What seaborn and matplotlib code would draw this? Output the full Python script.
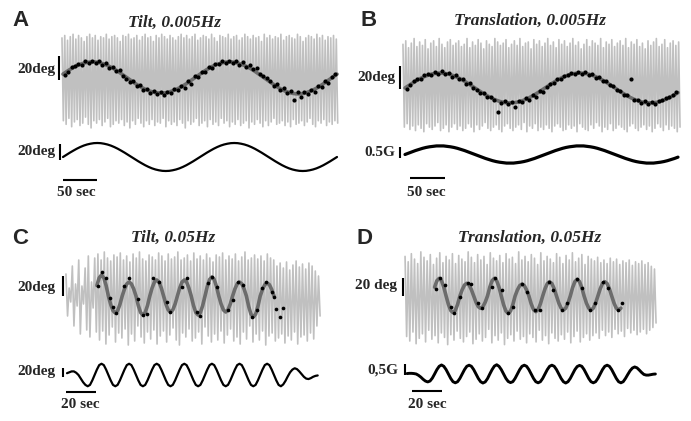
"""
Vestibular responses to tilt and translation: eye trace, fitted slow phase and stimulus.
"""

import numpy as np
import matplotlib
matplotlib.use("Agg")
import matplotlib.pyplot as plt
import seaborn as sns

W, H = 691, 421

# ---------------- Panel A: tilt 0.005 Hz (time step 5 s) ----------------
a_stim = [0, 2.7, 5.4, 7.9, 10.3, 12.4, 14.2, 15.6, 16.6, 17.3, 17.5, 17.3, 16.6, 15.6, 14.2, 12.4, 10.3, 7.9, 5.4, 2.7,
          0, -2.7, -5.4, -7.9, -10.3, -12.4, -14.2, -15.6, -16.6, -17.3, -17.5, -17.3, -16.6, -15.6, -14.2, -12.4, -10.3, -7.9, -5.4, -2.7,
          0, 2.7, 5.4, 7.9, 10.3, 12.4, 14.2, 15.6, 16.6, 17.3, 17.5, 17.3, 16.6, 15.6, 14.2, 12.4, 10.3, 7.9, 5.4, 2.7,
          0, -2.7, -5.4, -7.9, -10.3, -12.4, -14.2, -15.6, -16.6, -17.3, -17.5, -17.3, -16.6, -15.6, -14.2, -12.4, -10.3, -7.9, -5.4, -2.7,
          0]
a_fit = [2.8, 4.8, 6.6, 8.3, 9.8, 11.0, 11.9, 12.6, 12.9, 13.0, 12.7, 12.1, 11.1, 10.0, 8.6, 7.0, 5.2, 3.2, 1.2, -0.8,
         -2.8, -4.8, -6.6, -8.3, -9.8, -11.0, -11.9, -12.6, -12.9, -13.0, -12.7, -12.1, -11.1, -10.0, -8.6, -7.0, -5.2, -3.2, -1.2, 0.8,
         2.8, 4.8, 6.6, 8.3, 9.8, 11.0, 11.9, 12.6, 12.9, 13.0, 12.7, 12.1, 11.1, 10.0, 8.6, 7.0, 5.2, 3.2, 1.2, -0.8,
         -2.8, -4.8, -6.8, -8.6, -10.2, -11.5, -12.5, -13.2, -13.6, -13.7, -13.4, -12.7, -11.6, -10.4, -8.9, -7.2, -5.3, -3.2, -1.2, 0.8,
         2.8]
a_dots = [2.1, 5.0, 8.6, 9.8, 11.2, 10.6, 13.9, 12.0, 14.1, 12.5, 13.6, 10.8, 11.9, 8.2, 8.9, 5.1, 6.3, 1.0, -0.9, -3.5,
          -2.6, -7.0, -6.4, -10.1, -9.5, -12.6, -11.4, -13.9, -12.1, -14.2, -11.8, -12.9, -9.7, -10.4, -6.8, -8.9, -3.1, -5.4, 1.2, 0.6,
          4.9, 4.6, 8.8, 7.9, 11.6, 10.9, 13.4, 12.1, 14.0, 12.3, 13.5, 10.6, 12.7, 9.0, 10.2, 6.8, 7.7, 3.3, 1.4, -0.6,
          -2.9, -6.8, -5.1, -10.2, -8.7, -12.8, -10.9, -18.5, -12.2, -16.5, -12.0, -13.8, -10.1, -11.9, -6.7, -8.2, -3.0, -4.5, 0.8, 3.0]
a_eye_hi = [33, 35, 31, 34, 36, 32, 35, 33, 30, 34, 36, 33, 35, 31, 34, 33, 36, 32, 34, 35,
            33, 30, 35, 34, 36, 32, 33, 35, 31, 34, 36, 33, 34, 30, 35, 33, 36, 34, 32, 35,
            33, 31, 34, 36, 33, 35, 32, 34, 36, 31, 33, 35, 34, 32, 36, 33, 30, 35, 34, 33,
            36, 32, 34, 35, 31, 33, 36, 34, 32, 35, 33, 34, 30, 36, 33, 35, 32, 34, 33, 36,
            31, 34, 35, 33, 32, 36, 34, 30, 33, 35, 34, 32, 36, 33, 35, 31, 34, 33, 35, 32]
a_eye_lo = [-36, -39, -34, -41, -37, -35, -40, -38, -33, -39, -42, -36, -38, -35, -40, -37, -34, -41, -39, -36,
            -38, -35, -40, -37, -42, -36, -39, -34, -38, -41, -36, -39, -35, -40, -37, -38, -34, -41, -36, -39,
            -37, -40, -35, -38, -42, -36, -39, -37, -34, -40, -38, -36, -41, -35, -39, -37, -40, -34, -38, -36,
            -41, -37, -39, -35, -40, -38, -36, -42, -37, -39, -35, -38, -41, -36, -40, -37, -34, -39, -38, -36,
            -40, -37, -41, -35, -39, -38, -36, -40, -37, -34, -39, -41, -36, -38, -35, -40, -37, -39, -36, -38]

# ---------------- Panel B: translation 0.005 Hz (time step 5 s) ----------------
b_stim = [0, 0.06, 0.12, 0.18, 0.23, 0.28, 0.32, 0.35, 0.37, 0.39, 0.39, 0.39, 0.37, 0.35, 0.32, 0.28, 0.23, 0.18, 0.12, 0.06,
          0, -0.06, -0.12, -0.18, -0.23, -0.28, -0.32, -0.35, -0.37, -0.39, -0.39, -0.39, -0.37, -0.35, -0.32, -0.28, -0.23, -0.18, -0.12, -0.06,
          0, 0.06, 0.12, 0.18, 0.23, 0.28, 0.32, 0.35, 0.37, 0.39, 0.39, 0.39, 0.37, 0.35, 0.32, 0.28, 0.23, 0.18, 0.12, 0.06,
          0, -0.06, -0.12, -0.18, -0.23, -0.28, -0.32, -0.35, -0.37, -0.39, -0.39, -0.39, -0.37, -0.35, -0.32, -0.28, -0.23, -0.18, -0.12]
b_fit = [0, 2.0, 4.0, 5.9, 7.6, 9.2, 10.5, 11.6, 12.4, 12.8, 13.0, 12.8, 12.4, 11.6, 10.5, 9.2, 7.6, 5.9, 4.0, 2.0,
         0, -2.0, -4.0, -5.9, -7.6, -9.2, -10.5, -11.6, -12.4, -12.8, -13.0, -12.8, -12.4, -11.6, -10.5, -9.2, -7.6, -5.9, -4.0, -2.0,
         0, 2.0, 4.0, 5.9, 7.6, 9.2, 10.5, 11.6, 12.4, 12.8, 13.0, 12.8, 12.4, 11.6, 10.5, 9.2, 7.6, 5.9, 4.0, 2.0,
         0, -2.0, -4.0, -5.9, -7.6, -9.2, -10.5, -11.6, -12.4, -12.8, -13.0, -12.8, -12.4, -11.6, -10.5, -9.2, -7.6, -5.9, -4.0]
b_dots = [-0.5, 2.2, 5.8, 7.9, 7.6, 10.9, 12.3, 11.2, 14.0, 12.1, 15.2, 11.8, 13.1, 10.0, 10.9, 7.5, 8.1, 3.9, 4.2, -0.3,
          -1.8, -4.1, -4.0, -7.9, -7.5, -10.8, -20.6, -12.9, -11.4, -14.1, -12.2, -16.5, -11.3, -12.3, -9.0, -10.7, -6.1, -7.4, -2.2, -3.9,
          0.9, 3.6, 4.1, 7.9, 7.8, 10.8, 11.2, 12.8, 11.9, 14.0, 12.4, 13.8, 10.9, 12.2, 9.0, 9.7, 5.8, 6.1, 2.4, 2.0,
          -2.1, -2.4, -5.8, -6.0, 7.8, -10.6, -10.2, -12.7, -11.6, -14.0, -12.1, -13.8, -11.2, -10.4, -9.1, -7.6, -6.1, -3.8]
b_eye_hi = [38, 41, 35, 39, 43, 36, 40, 37, 42, 34, 39, 41, 36, 43, 38, 35, 40, 42, 37, 39,
            41, 36, 38, 43, 35, 40, 37, 42, 39, 34, 41, 38, 36, 43, 40, 37, 39, 42, 35, 38,
            41, 37, 43, 36, 39, 40, 34, 42, 38, 41, 36, 39, 43, 37, 40, 35, 42, 38, 41, 36,
            39, 43, 37, 40, 34, 38, 42, 36, 41, 39, 37, 43, 35, 40, 38, 42, 36, 39, 41, 37,
            43, 35, 40, 38, 42, 36, 39, 34, 41, 37, 40, 43, 36, 38, 42, 35, 39, 41, 37, 40]
b_eye_lo = [-34, -31, -36, -33, -37, -32, -35, -38, -31, -34, -36, -33, -30, -37, -35, -32, -38, -34, -31, -36,
            -33, -37, -35, -31, -34, -38, -32, -36, -33, -30, -35, -37, -34, -32, -36, -38, -33, -31, -35, -37,
            -34, -32, -36, -30, -38, -33, -35, -31, -37, -34, -36, -32, -35, -38, -33, -31, -34, -37, -36, -32,
            -35, -33, -38, -31, -34, -36, -37, -32, -35, -30, -33, -38, -34, -36, -31, -37, -35, -32, -34, -36,
            -38, -33, -31, -35, -37, -34, -32, -36, -33, -38, -35, -31, -34, -37, -32, -36, -33, -35, -38, -34]

# ---------------- Panel C: tilt 0.05 Hz (time step 1.533 s) ----------------
c_stim = [4, 6, 8, 8, 5, 0, -8, -16, -22,
          -25, -22, -12, 0, 12, 22, 25, 22, 12, 0, -12, -22,
          -25, -22, -12, 0, 12, 22, 25, 22, 12, 0, -12, -22,
          -25, -22, -12, 0, 12, 22, 25, 22, 12, 0, -12, -22,
          -25, -22, -12, 0, 12, 22, 25, 22, 12, 0, -12, -22,
          -25, -22, -12, 0, 12, 22, 25, 22, 12, 0, -12, -22,
          -25, -22, -12, 0, 12, 22, 25, 22, 12, 0, -12, -22,
          -25, -22, -12, 0, 12, 22, 25, 22, 12, 0, -12, -22,
          -25, -21, -13, -3, 6, 12, 15,
          13, 8, 2, -4, -8,
          -9, -7, -4, -2, -1]
c_fit_start = 13
c_fit = [10.5, 18.2,
         21, 18.2, 10.5, 0, -8.5, -14.7, -17,
         -14.7, -8.5, 0, 7, 12.1, 14,
         12.1, 7, 0, -9.5, -16.5, -19,
         -16.5, -9.5, 0, 8, 13.9, 16,
         13.9, 8, 0, -8, -13.9, -16,
         -13.9, -8, 0, 8, 13.9, 16,
         13.9, 8, 0, -9.5, -16.5, -19,
         -16.5, -9.5, 0, 9.5, 16.5, 19,
         16.5, 9.5, 0, -8, -13.9, -16,
         -13.9, -8, 0, 7, 12.1, 14,
         12.1, 7, 0, -10.5, -18.2, -21,
         -18.2, -10.5, 0, 6.5, 11.3, 13,
         11.3, 6.5, 0]
c_dot_t = [20.9, 23.1, 26.0, 28.7, 30.9, 32.7, 38.0, 41.5, 47.5, 50.9, 53.0, 57.5, 61.0, 66.4, 68.7, 76.4, 79.8,
           86.4, 88.7, 94.2, 96.4, 99.8, 107.5, 110.9, 114.2, 117.6, 123.1, 126.4, 129.8, 132.7, 136.4, 138.0,
           139.1, 144.2, 142.0]
c_dot_y = [10, 24, 18, -2, -11, -17, 10, 18, -3, -19, -18, 18, 14, -6, -16, 9, 18,
           -16, -20, 13, 19, 9, -14, -4, 14, 11, -21, -14, 8, 14, 4, -1,
           -13, -12, -21]
c_eye_hi = [22, 8, 30, 12, 36, 10, 28, 40, 14, 38,
            42, 36, 44, 38, 35, 41, 39, 43, 36, 40,
            34, 42, 38, 44, 37, 35, 41, 39, 36, 43,
            40, 35, 42, 37, 39, 44, 36, 38, 41, 35,
            43, 37, 40, 36, 42, 38, 34, 41, 39, 43,
            36, 40, 37, 42, 35, 39, 44, 36, 38, 41,
            37, 40, 35, 42, 38, 36,
            30, 33, 28, 34, 26, 31, 35, 29, 32, 27, 33, 30, 25, 20]
c_eye_lo = [-20, -6, -30, -10, -38, -8, -34, -41, -12, -36,
            -44, -35, -48, -39, -31, -46, -37, -42, -33, -49,
            -38, -45, -30, -41, -47, -36, -43, -34, -48, -40,
            -35, -46, -39, -32, -44, -49, -37, -41, -33, -45,
            -42, -36, -48, -31, -40, -46, -38, -44, -35, -47,
            -39, -33, -45, -41, -48, -36, -43, -30, -46, -38,
            -44, -35, -49, -40, -37, -45,
            -42, -38, -47, -40, -44, -36, -48, -41, -39, -45, -37, -43, -30, -20]

# ---------------- Panel D: translation 0.05 Hz (time step 1.533 s) ----------------
d_stim = [0.02, 0.03, 0.03, 0.02, 0.0, -0.06, -0.14, -0.24, -0.32,
          -0.36, -0.32, -0.19, 0.0, 0.2, 0.35, 0.41, 0.35, 0.2, 0.0, -0.2, -0.35,
          -0.4, -0.35, -0.2, 0.0, 0.2, 0.35, 0.4, 0.35, 0.2, 0.0, -0.2, -0.35,
          -0.41, -0.36, -0.21, 0.0, 0.2, 0.36, 0.42, 0.35, 0.2, 0.0, -0.2, -0.34,
          -0.39, -0.35, -0.2, 0.0, 0.2, 0.35, 0.4, 0.35, 0.2, 0.0, -0.2, -0.35,
          -0.4, -0.35, -0.2, 0.0, 0.2, 0.35, 0.4, 0.35, 0.2, 0.0, -0.2, -0.35,
          -0.41, -0.35, -0.2, 0.0, 0.2, 0.34, 0.39, 0.35, 0.2, 0.0, -0.2, -0.35,
          -0.4, -0.35, -0.2, 0.0, 0.2, 0.35, 0.4, 0.35, 0.2, 0.0, -0.2, -0.35,
          -0.4, -0.35, -0.2, -0.02, 0.15, 0.27, 0.32,
          0.28, 0.18, 0.07, -0.02, -0.05, -0.05, -0.03, -0.01, 0.0]
d_fit_start = 12
d_fit = [9.8, 17,
         19.6, 17, 9.8, 0, -9.3, -16, -18.5,
         -16, -9.3, 0, 7, 12.2, 14.1,
         12.2, 7, 0, -6.9, -11.9, -13.7,
         -11.9, -6.9, 0, 9.8, 17, 19.6,
         17, 9.8, 0, -9.7, -16.7, -19.3,
         -16.7, -9.7, 0, 6.7, 11.5, 13.3,
         11.5, 6.7, 0, -8.7, -15.1, -17.4,
         -15.1, -8.7, 0, 8, 13.8, 15.9,
         13.8, 8, 0, -7.8, -13.5, -15.6,
         -13.5, -7.8, 0, 9.3, 16, 18.5,
         16, 9.3, 0, -7.8, -13.5, -15.6,
         -13.5, -7.8, 0, 8, 13.8, 15.9,
         13.8, 8, 0, -7.8, -13.5, -15.6,
         -13.5]
d_dot_t = [19.1, 22.0, 25.3, 29.3, 31.6, 35.3, 40.4, 42.7, 47.6, 49.8, 56.4, 58.7, 63.1, 67.6, 70.9, 76.4,
           79.8, 85.3, 88.7, 94.7, 97.6, 103.1, 106.4, 113.1, 116.4, 122.0, 125.3, 130.9, 134.2, 140.9, 143.1]
d_dot_y = [7.8, 19.6, 12, -11.9, -19.3, -0.7, 14, 13.3, -8, -13.7, 10.4, 19.6, 6.7, -19.3, -11.9, 13.3,
           4.8, -15.6, -15.6, 15.9, 6.7, -15.6, -8, 18.5, 8.5, -15.6, -8, 15.9, 8.5, -15.6, -8]
d_eye_hi = [44, 38, 47, 41, 36, 49, 43, 39, 46, 35,
            42, 48, 37, 44, 40, 47, 36, 45, 41, 38,
            49, 43, 37, 46, 40, 44, 35, 48, 42, 39,
            45, 37, 47, 41, 43, 36, 49, 40, 44, 38,
            46, 42, 35, 48, 39, 44, 41, 37, 47, 43,
            36, 45, 40, 48, 38, 42, 46, 35, 44, 41,
            39, 43, 37, 40, 36, 42, 38, 41, 35, 39,
            37, 40, 34, 38, 36, 39, 35, 37, 33, 30]
d_eye_lo = [-45, -50, -40, -53, -47, -42, -51, -38, -48, -44,
            -52, -41, -46, -54, -43, -49, -39, -47, -51, -45,
            -40, -53, -48, -42, -50, -46, -37, -52, -44, -49,
            -41, -54, -47, -43, -50, -39, -48, -45, -52, -42,
            -46, -51, -38, -49, -44, -53, -41, -47, -50, -43,
            -48, -40, -52, -45, -39, -51, -46, -42, -49, -44,
            -41, -47, -38, -44, -40, -46, -37, -42, -39, -45,
            -36, -41, -38, -43, -40, -37, -42, -38, -35, -30]

SLOW_DT = 5.0      # sampling of the 0.005 Hz records (s)
FAST_DT = 1.533    # sampling of the 0.05 Hz records (s)

GRAY = "#c0c0c0"
FIT_GRAY = "#6c6c6c"
SERIF = ["Liberation Serif", "DejaVu Serif"]
SANS = ["Liberation Sans", "DejaVu Sans"]


def px_axes(fig, x0, x1, y0, y1, t0, t1, yc, ppu):
    """Axes placed by pixel box; y scaled so that yc (px) is zero and ppu px per unit."""
    ax = fig.add_axes([x0 / W, 1 - y1 / H, (x1 - x0) / W, (y1 - y0) / H])
    ax.set_xlim(t0, t1)
    ax.set_ylim((yc - y1) / ppu, (yc - y0) / ppu)
    ax.set_axis_off()
    ax.patch.set_alpha(0)
    return ax


def ftext(fig, x, y, s, **kw):
    fig.text(x / W, 1 - y / H, s, va="center", **kw)


def label(fig, x, y, s, ha="right"):
    ftext(fig, x, y, s, ha=ha, fontsize=11, fontweight="bold", family=SERIF)


def draw_eye(ax, hi, lo, t0, t1, fit_t, fit_y, dot_t, dot_y, dot_size):
    n = min(len(hi), len(lo))
    trace = np.column_stack([hi[:n], lo[:n]]).ravel()
    tt = np.linspace(t0, t1, 2 * n)
    sns.lineplot(x=tt, y=trace, ax=ax, color=GRAY, linewidth=1.2, sort=False,
                 estimator=None, clip_on=False)
    sns.lineplot(x=fit_t, y=fit_y, ax=ax, color=FIT_GRAY, linewidth=2.6, sort=False,
                 estimator=None, clip_on=False)
    sns.scatterplot(x=dot_t, y=dot_y, ax=ax, color="black", s=dot_size, linewidth=0,
                    clip_on=False, zorder=3)


def draw_stim(ax, t, y, lw):
    sns.lineplot(x=t, y=y, ax=ax, color="black", linewidth=lw, sort=False,
                 estimator=None, clip_on=False)


def bar(ax, xs, ys):
    ax.plot(xs, ys, color="black", linewidth=1.5, clip_on=False, solid_capstyle="butt")


def main():
    sns.set_style("white")
    plt.rcParams["font.family"] = SERIF
    fig = plt.figure(figsize=(W / 100, H / 100), dpi=100)

    # ---- A ----
    ax = px_axes(fig, 63, 337, 25, 140, 0, 400, 77.5, 1.2)
    t = np.arange(len(a_fit)) * SLOW_DT
    draw_eye(ax, a_eye_hi, a_eye_lo, -1.5, 401, t, a_fit,
             np.arange(len(a_dots)) * SLOW_DT + 2.5, a_dots, 9)
    bar(ax, [-6, -6], [-2, 18])
    ax = px_axes(fig, 63, 337, 138, 178, 0, 400, 157, 0.8)
    draw_stim(ax, np.arange(len(a_stim)) * SLOW_DT, a_stim, 1.6)
    bar(ax, [-4.4, -4.4], [-4, 16])
    bar(ax, [0, 50], [-29, -29])

    # ---- B ----
    ax = px_axes(fig, 405, 678, 25, 140, 0, 390, 88, 1.15)
    t = np.arange(len(b_fit)) * SLOW_DT
    draw_eye(ax, b_eye_hi, b_eye_lo, -2.9, 392.9, t, b_fit,
             np.arange(len(b_dots)) * SLOW_DT + 2.5, b_dots, 9)
    bar(ax, [-7.1, -7.1], [-1, 19])
    ax = px_axes(fig, 405, 678, 138, 178, 0, 390, 154.5, 22)
    draw_stim(ax, np.arange(len(b_stim)) * SLOW_DT, b_stim, 2.3)
    bar(ax, [-7.1, -7.1], [-0.16, 0.34])
    bar(ax, [7, 57], [-1.07, -1.07])

    # ---- C ----
    ax = px_axes(fig, 67, 318, 245, 355, 0, 167.3, 296, 1.0)
    t = (np.arange(len(c_fit)) + c_fit_start) * FAST_DT
    draw_eye(ax, c_eye_hi, c_eye_lo, -0.7, 168.7, t, c_fit, c_dot_t, c_dot_y, 7)
    bar(ax, [-2.7, -2.7], [0, 20])
    ax = px_axes(fig, 67, 318, 355, 395, 0, 167.3, 375, 0.45)
    draw_stim(ax, np.arange(len(c_stim)) * FAST_DT, c_stim, 1.6)
    bar(ax, [-2.7, -2.7], [-4.4, 15.6])
    bar(ax, [-0.7, 19.3], [-37.8, -37.8])

    # ---- D ----
    ax = px_axes(fig, 407, 655, 245, 355, 0, 165.3, 296, 0.9)
    t = (np.arange(len(d_fit)) + d_fit_start) * FAST_DT
    draw_eye(ax, d_eye_hi, d_eye_lo, -1.3, 166, t, d_fit, d_dot_t, d_dot_y, 7)
    bar(ax, [-2.7, -2.7], [0, 20])
    ax = px_axes(fig, 407, 655, 355, 395, 0, 165.3, 374, 22)
    draw_stim(ax, np.arange(len(d_stim)) * FAST_DT, d_stim, 2.1)
    bar(ax, [-1.3, -1.3], [-0.05, 0.45])
    bar(ax, [3.3, 23.3], [-0.77, -0.77])

    # ---- text ----
    for x, y, s in [(12, 21, "A"), (361, 21, "B"), (12, 238, "C"), (357, 238, "D")]:
        ftext(fig, x, y, s, ha="left", fontsize=16, fontweight="bold", family=SANS)
    for x, y, s in [(175, 23, "Tilt, 0.005Hz"), (530, 21, "Translation, 0.005Hz"),
                    (173, 238, "Tilt, 0.05Hz"), (530, 238, "Translation, 0.05Hz")]:
        ftext(fig, x, y, s, ha="center", fontsize=12.5, fontweight="bold",
              style="italic", family=SERIF)

    label(fig, 55, 69, "20deg")
    label(fig, 55, 152, "20deg")
    label(fig, 76, 193, "50 sec", ha="center")
    label(fig, 395, 77, "20deg")
    label(fig, 395, 152, "0.5G")
    label(fig, 426, 193, "50 sec", ha="center")
    label(fig, 55, 287, "20deg")
    label(fig, 55, 371, "20deg")
    label(fig, 80, 405, "20 sec", ha="center")
    label(fig, 397, 285, "20 deg")
    label(fig, 398, 370, "0,5G")
    label(fig, 427, 405, "20 sec", ha="center")

    fig.savefig("out.png", dpi=100, facecolor="white")


if __name__ == "__main__":
    main()
